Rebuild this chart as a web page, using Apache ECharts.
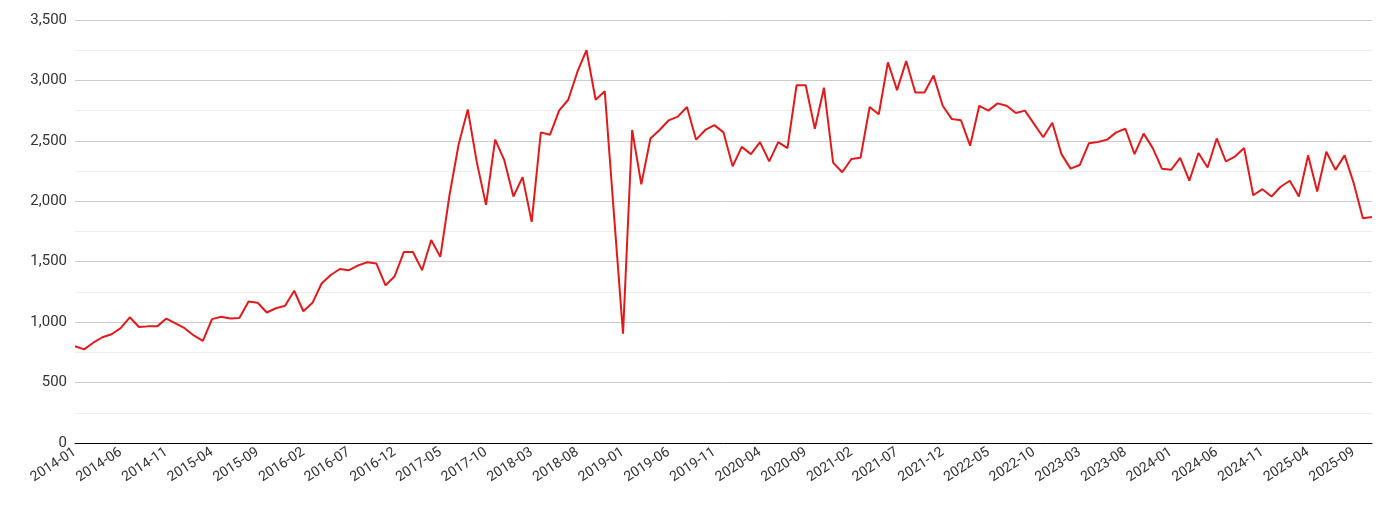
<!DOCTYPE html>
<html><head><meta charset="utf-8">
<script src="https://cdn.jsdelivr.net/npm/echarts@6/dist/echarts.min.js"></script>
<style>html,body{margin:0;padding:0;background:#fff}#c{width:1390px;height:510px}</style>
</head><body><div id="c"></div>
<script>
const startYear = 2014, startMonth = 1;
const values = [
800,775,830,875,900,950,1040,960,965,965,1030,990,950,890,845,1025,1045,1030,1035,1170,
1160,1080,1115,1135,1260,1090,1160,1320,1390,1440,1430,1470,1495,1485,1305,1380,1580,1580,1430,1680,
1540,2050,2470,2760,2320,1970,2510,2340,2040,2200,1830,2570,2550,2750,2840,3070,3250,2840,2910,1900,
905,2590,2140,2520,2590,2670,2700,2780,2510,2590,2630,2570,2290,2450,2390,2490,2330,2490,2440,2960,
2960,2600,2940,2320,2240,2350,2360,2780,2720,3150,2920,3160,2900,2900,3040,2790,2680,2670,2460,2790,
2750,2810,2790,2730,2750,2640,2530,2650,2390,2270,2300,2480,2490,2510,2570,2600,2390,2560,2440,2270,
2260,2360,2170,2400,2280,2520,2330,2370,2440,2050,2100,2040,2120,2170,2040,2380,2080,2410,2260,2380,
2150,1860,1870];
const categories = values.map((_, i) => {
  const m = startMonth - 1 + i;
  return (startYear + Math.floor(m / 12)) + '-' + String(m % 12 + 1).padStart(2, '0');
});
const chart = echarts.init(document.getElementById('c'));
chart.setOption({
  animation: false,
  grid: {left: 75, right: 18, top: 20, bottom: 67},
  xAxis: {
    type: 'category', data: categories, boundaryGap: false,
    axisLine: {lineStyle: {color: '#000'}},
    axisTick: {show: false},
    axisLabel: {interval: 4, rotate: 33, color: '#333', fontSize: 14, fontFamily: 'Roboto', margin: 8}
  },
  yAxis: {
    type: 'value', min: 0, max: 3500, interval: 500,
    axisLabel: {color: '#333', fontSize: 15, fontFamily: 'Roboto',
      formatter: v => v.toLocaleString('en-US')},
    splitLine: {lineStyle: {color: '#ccc'}},
    minorTick: {show: false, splitNumber: 2},
    minorSplitLine: {show: true, lineStyle: {color: '#eee'}}
  },
  series: [{type: 'line', data: values, showSymbol: false,
    lineStyle: {color: '#e31a1c', width: 2}, itemStyle: {color: '#e31a1c'}}]
});
</script></body></html>
